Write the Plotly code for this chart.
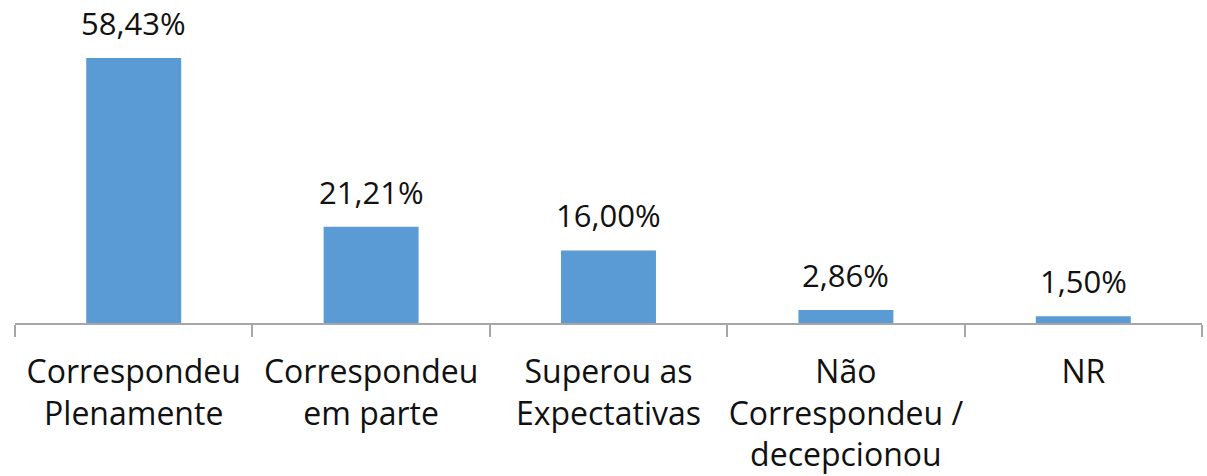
import plotly.graph_objects as go

categories = ["Correspondeu<br>Plenamente", "Correspondeu<br>em parte", "Superou as<br>Expectativas",
              "Não<br>Correspondeu /<br>decepcionou", "NR"]
values = [58.43, 21.21, 16.00, 2.86, 1.50]
value_labels = ["58,43%", "21,21%", "16,00%", "2,86%", "1,50%"]

FONT = "Open Sans"
BAR_COLOR = "#5B9BD5"
AXIS_COLOR = "#A6A6A6"
TEXT_COLOR = "#111111"

fig = go.Figure(
    go.Bar(
        x=categories,
        y=values,
        marker=dict(color=BAR_COLOR, line=dict(width=0)),
        width=0.4,
        hoverinfo="skip",
    )
)

for cat, val, lab in zip(categories, values, value_labels):
    fig.add_annotation(
        x=cat, y=val, text=lab, showarrow=False,
        xanchor="center", yanchor="bottom", yshift=12,
        font=dict(family=FONT, size=31, color=TEXT_COLOR),
    )

fig.update_layout(
    width=1207, height=476,
    margin=dict(l=15, r=5, t=0, b=153, autoexpand=False),
    paper_bgcolor="white", plot_bgcolor="white",
    showlegend=False,
    font=dict(family=FONT, color=TEXT_COLOR),
)
fig.update_xaxes(
    showline=True, linecolor=AXIS_COLOR, linewidth=1.5,
    ticks="outside", tickson="boundaries", ticklen=12, tickcolor=AXIS_COLOR, tickwidth=1.5,
    tickfont=dict(family=FONT, size=32, color=TEXT_COLOR),
    tickangle=0, automargin=False,
    ticklabelstandoff=20,
    showgrid=False, zeroline=False,
)
fig.update_yaxes(range=[0, 71.2], visible=False, showgrid=False, zeroline=False)

fig.write_html("out.html")
